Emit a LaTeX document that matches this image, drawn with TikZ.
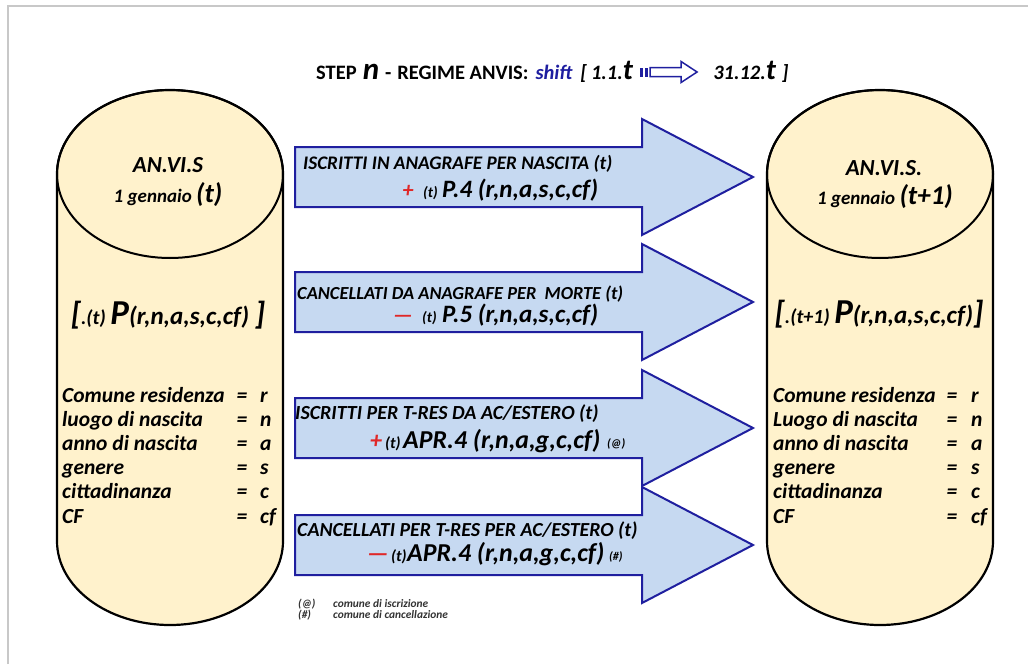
\documentclass[tikz,border=0pt]{standalone}
\usepackage{fontspec}
\setmainfont{Carlito}
\definecolor{cylfill}{HTML}{FFF2CC}
\definecolor{arrfill}{HTML}{C6D9F1}
\definecolor{arrline}{HTML}{1F1F9F}
\definecolor{redm}{HTML}{E02828}
\definecolor{shiftblue}{HTML}{1E1EA0}
\definecolor{framegray}{HTML}{C8C8C8}
\newcommand{\fsz}[1]{\fontsize{#1}{#1}\selectfont}
\begin{document}
\begin{tikzpicture}[x=1pt,y=-1pt,
  cyl/.style={draw=black, line width=2.2pt, fill=cylfill},
  bigarrow/.style={draw=arrline, line width=2pt, fill=arrfill, line join=miter},
  txt/.style={inner sep=0pt, font=\bfseries\itshape},
  bw/.style={txt, anchor=base west},
  lbl/.style={bw, font=\bfseries\itshape\fsz{21.5}},
  eqs/.style={txt, anchor=base, font=\bfseries\itshape\fsz{21.5}},
  ]
\useasboundingbox (0,0) rectangle (1028,664);
\fill[white] (0,0) rectangle (1028,664);
\draw[framegray, line width=1.2pt] (8,664) -- (8,6) -- (1028,6);

% ---------- title ----------
\node[bw] (title) at (316,79) {\fsz{20.5}{\upshape STEP}\hspace{6pt}{\fsz{31}n}\hspace{6pt}{\upshape -\hspace{6pt}REGIME ANVIS:}\hspace{7pt}{\color{shiftblue}shift}\hspace{8pt}[\hspace{4pt}1.1.{\fsz{29}t}};
\coordinate (ta) at ([xshift=7pt, yshift=7pt]title.base east);
\fill[arrline] (ta) ++(0,-4.5) rectangle ++(3,9);
\fill[arrline] (ta) ++(5,-4.5) rectangle ++(3,9);
\draw[arrline, line width=1.5pt, fill=white] (ta) ++(10,-4.5) -- ++(31,0) -- ++(0,-6) -- ++(16,10.5) -- ++(-16,10.5) -- ++(0,-6) -- ++(-31,0) -- cycle;
\node[bw] (title2) at ([xshift=80pt]title.base east) {\fsz{20.5}31.12.{\fsz{29}t}\hspace{6pt}]};

% ---------- left cylinder ----------
\path[cyl] (57,174) -- (57,541) arc[start angle=180, end angle=0, x radius=113, y radius=84]
  -- (283,174) arc[start angle=0, end angle=-180, x radius=113, y radius=84] -- cycle;
\draw[black, line width=2pt] (170,174) ellipse [x radius=113, y radius=84];

\node[txt, anchor=base] (l1) at (168,172) {\fsz{23}AN.VI.S};
\node[txt, anchor=base] (l2) at (168,202) {\fsz{19}1 gennaio {\fsz{27}(t)}};
\node[txt, anchor=base] (l3) at (168,324) {\fsz{32}[\fsz{20}.(t) {\fsz{35}P}\fsz{25}(r,n,a,s,c,cf) \fsz{32}]};

\foreach \t/\v [count=\i from 0] in {Comune residenza/r, luogo di nascita/n, anno di nascita/a, genere/s, cittadinanza/c, CF/cf}{
  \node[lbl] (ll\i) at (62,{402+24.2*\i}) {\t};
  \node[eqs] (le\i) at (242,{402+24.2*\i}) {=};
  \node[lbl] (lv\i) at (260,{402+24.2*\i}) {\v};
}

% ---------- right cylinder ----------
\path[cyl] (767,174) -- (767,541) arc[start angle=180, end angle=0, x radius=113, y radius=84]
  -- (993,174) arc[start angle=0, end angle=-180, x radius=113, y radius=84] -- cycle;
\draw[black, line width=2pt] (880,174) ellipse [x radius=113, y radius=84];

\node[txt, anchor=base] (r1) at (884,175) {\fsz{23}AN.VI.S.};
\node[txt, anchor=base] (r2) at (885,204) {\fsz{19}1 gennaio {\fsz{27}(t+1)}};
\node[txt, anchor=base] (r3) at (879,323) {\fsz{32}[\fsz{20}.(t+1) {\fsz{35}P}\fsz{25}(r,n,a,s,c,cf)\fsz{32}]};

\foreach \t/\v [count=\i from 0] in {Comune residenza/r, Luogo di nascita/n, anno di nascita/a, genere/s, cittadinanza/c, CF/cf}{
  \node[lbl] (rl\i) at (773,{402+24.2*\i}) {\t};
  \node[eqs] (re\i) at (952,{402+24.2*\i}) {=};
  \node[lbl] (rv\i) at (971,{402+24.2*\i}) {\v};
}

% ---------- block arrows ----------
\foreach \yc in {177,302,428,545}{
  \draw[bigarrow] (295,{\yc-30}) -- (642,{\yc-30}) -- (642,{\yc-58}) -- (753,\yc)
    -- (642,{\yc+58}) -- (642,{\yc+30}) -- (295,{\yc+30}) -- cycle;
}

% arrow 1
\node[bw] (a1a) at (303,169) {\fsz{19.2}ISCRITTI IN ANAGRAFE PER NASCITA (t)};
\node[txt, anchor=base, text=redm] (a1s) at (408,197) {\fsz{22}+};
\node[bw] (a1t) at (423,197) {\fsz{15}(t)};
\node[bw] (a1b) at (442,197) {\fsz{25}P.4 (r,n,a,s,c,cf)};

% arrow 2
\node[bw] (a2a) at (297,299) {\fsz{18.4}CANCELLATI DA ANAGRAFE PER \ MORTE (t)};
\node[txt, anchor=base, text=redm] (a2s) at (403,322) {\fsz{22}—};
\node[bw] (a2t) at (422,322) {\fsz{15}(t)};
\node[bw] (a2b) at (442,322) {\fsz{25}P.5 (r,n,a,s,c,cf)};

% arrow 3
\node[bw] (a3a) at (295,419) {\fsz{20}ISCRITTI PER T-RES DA AC/ESTERO (t)};
\node[txt, anchor=base, text=redm] (a3s) at (376,448) {\fsz{24}+};
\node[bw] (a3t) at (385,448) {\fsz{16}(t)};
\node[bw] (a3b) at (403,448) {\fsz{25.8}APR.4 (r,n,a,g,c,cf)};
\node[bw] (a3n) at (607,447) {\fsz{12}(@)};

% arrow 4
\node[bw] (a4a) at (297,536) {\fsz{19.9}CANCELLATI PER T-RES PER AC/ESTERO (t)};
\node[txt, anchor=base, text=redm] (a4s) at (378,561) {\fsz{24}—};
\node[bw] (a4t) at (391,561) {\fsz{16}(t)};
\node[bw] (a4b) at (407,561) {\fsz{25.8}APR.4 (r,n,a,g,c,cf)};
\node[bw] (a4n) at (609,560) {\fsz{12}(\#)};

% ---------- footnotes ----------
\node[bw, text=black!80] (f1) at (298,607) {\fsz{11.4}(@)};
\node[bw, text=black!80] (f1t) at (333,607) {\fsz{11.4}comune di iscrizione};
\node[bw, text=black!80] (f2) at (298,618) {\fsz{11.4}(\#)};
\node[bw, text=black!80] (f2t) at (333,618) {\fsz{11.4}comune di cancellazione};
\end{tikzpicture}
\end{document}
